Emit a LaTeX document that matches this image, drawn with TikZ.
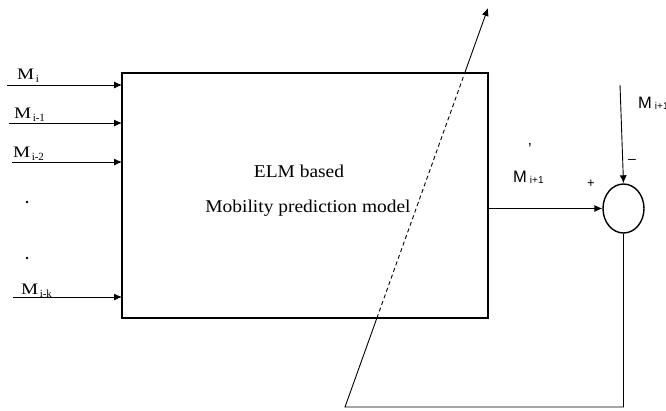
\documentclass[tikz,border=0pt]{standalone}
\usepackage{fontspec}
\setmainfont{Liberation Serif}
\newfontfamily\sansf{Liberation Sans}
\usetikzlibrary{arrows.meta,shapes.geometric,calc}
\newcommand\inlab[1]{\scalebox{1.2}[1]{\fontsize{16}{18}\selectfont M}\hspace{1.5pt}\raisebox{-3pt}{\fontsize{11}{12}\selectfont #1}}
\newcommand\outlab[1]{{\sansf\fontsize{16.5}{18}\selectfont M}\hspace{3pt}\raisebox{-1pt}{\sansf\fontsize{10}{12}\selectfont #1}}
\begin{document}
\begin{tikzpicture}[x=1pt,y=-1pt,
  arr/.style={-{Latex[length=8pt,width=7pt]}, line width=0.9pt},
  plainline/.style={line width=0.9pt},
  boxstyle/.style={draw, line width=1.4pt, inner sep=0pt, outer sep=0pt},
  lab/.style={inner sep=0pt, anchor=base west},
  midtext/.style={inner sep=0pt, anchor=base, font=\fontsize{18}{20}\selectfont},
  dotstyle/.style={circle, fill=black, inner sep=0pt, minimum size=2.6pt}]
\useasboundingbox (0,0) rectangle (666,410);
\clip (0,0) rectangle (666,410);

% main box
\node[boxstyle, minimum width=366pt, minimum height=245pt, anchor=north west] (box) at (122,73) {};
\node[midtext] (t1) at (299,177) {\scalebox{1.08}[1]{ELM based}};
\node[midtext] (t2) at (308,212) {\scalebox{1.08}[1]{Mobility prediction model}};

% inputs
\coordinate (s1) at (7,85);
\coordinate (s2) at (9,123);
\coordinate (s3) at (12,162);
\coordinate (s4) at (13,297);
\draw[arr] (s1) -- (s1 -| box.west);
\draw[arr] (s2) -- (s2 -| box.west);
\draw[arr] (s3) -- (s3 -| box.west);
\draw[arr] (s4) -- (s4 -| box.west);
\node[lab] (l1) at (17,79) {\inlab{i}};
\node[lab] (l2) at (14,118) {\inlab{i-1}};
\node[lab] (l3) at (13,157) {\inlab{i-2}};
\node[lab] (l4) at (21,294) {\inlab{i-k}};
\node[dotstyle] (d1) at (27,202) {};
\node[dotstyle] (d2) at (27,258) {};

% summing junction
\node[draw, ellipse, line width=1.4pt, minimum width=41pt, minimum height=49pt, inner sep=0pt] (sum) at (623.5,208.5) {};
\draw[arr] (sum.west -| box.east) -- (sum.west);
\coordinate (mtop) at (620,85);
\draw[arr] (mtop) -- (sum.north);
\node[lab] (o1) at (513,182) {\outlab{i+1}};
\node[inner sep=0pt] (pr) at (530,149) {\sansf\fontsize{16}{18}\selectfont ’};
\node[lab] (o2) at (638,108) {\outlab{i+1}};
\node[inner sep=0pt] (plus) at (591,184) {\sansf\fontsize{13}{15}\selectfont +};
\node[inner sep=0pt] (minus) at (632,161) {\sansf\fontsize{14}{15}\selectfont –};

% feedback
\coordinate (fb) at (345,407);
\coordinate (tip) at (488,8);
\coordinate (cb) at ($(fb)!0.2231!(tip)$);
\coordinate (ct) at ($(fb)!0.8371!(tip)$);
\draw[plainline] (sum.south) -- (sum.south |- fb) -- (fb) -- (cb);
\draw[plainline, dash pattern=on 4pt off 3pt] (cb) -- (ct);
\draw[arr] (ct) -- (tip);
\end{tikzpicture}
\end{document}
